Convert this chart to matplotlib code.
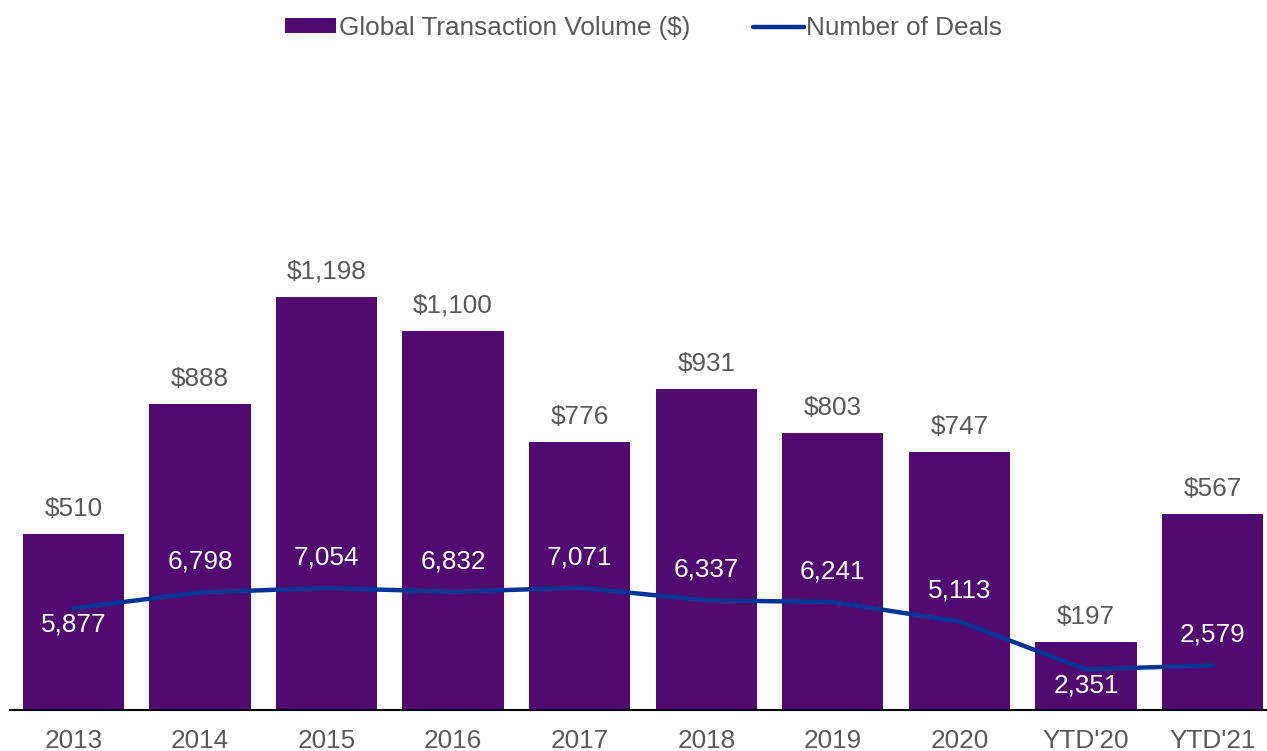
import matplotlib
matplotlib.use("Agg")
import matplotlib.pyplot as plt

# Data
years = ["2013", "2014", "2015", "2016", "2017", "2018", "2019", "2020", "YTD'20", "YTD'21"]
volume = [510, 888, 1198, 1100, 776, 931, 803, 747, 197, 567]
deals = [5877, 6798, 7054, 6832, 7071, 6337, 6241, 5113, 2351, 2579]
# label placement for deals: True = above the line
deal_above = [False, True, True, True, True, True, True, True, False, True]

BAR_COLOR = "#500A70"
LINE_COLOR = "#003595"
TEXT_COLOR = "#595959"
FS = 18.8

plt.rcParams['font.family'] = ['Liberation Sans', 'DejaVu Sans']

fig = plt.figure(figsize=(12.67, 7.51), dpi=100)
ax = fig.add_axes([10 / 1267, 41 / 751, 1257 / 1267, 650 / 751])

x = list(range(len(years)))
ax.bar(x, volume, width=0.8, color=BAR_COLOR, label="Global Transaction Volume ($)", zorder=2)
ax.set_xlim(-0.5, 9.43)
ax.set_ylim(0, 650 / 0.345)

for xi, v in zip(x, volume):
    ax.annotate(f"${v:,}", (xi, v), xytext=(0, 18), textcoords="offset points",
                ha="center", va="center", fontsize=FS, color=TEXT_COLOR)

ax2 = ax.twinx()
ax2.plot(x, deals, color=LINE_COLOR, linewidth=3.2, solid_capstyle="round",
         label="Number of Deals", zorder=3)
ax2.set_ylim(0, 650 / 0.0173)

for xi, d, up in zip(x, deals, deal_above):
    off = 22 if up else -12
    ax2.annotate(f"{d:,}", (xi, d), xytext=(0, off), textcoords="offset points",
                 ha="center", va="center", fontsize=FS, color="white", zorder=4)

for a in (ax, ax2):
    for s in ["top", "right", "left"]:
        a.spines[s].set_visible(False)
    a.set_yticks([])
ax2.spines["bottom"].set_visible(False)
ax.spines["bottom"].set_linewidth(1.5)
ax.spines["bottom"].set_color("black")

ax.set_xticks(x)
ax.set_xticklabels(years, fontsize=FS, color=TEXT_COLOR)
ax.tick_params(axis="x", length=0, pad=14)

h1, l1 = ax.get_legend_handles_labels()
h2, l2 = ax2.get_legend_handles_labels()
fig.legend(h1 + h2, l1 + l2, loc="center", bbox_to_anchor=(0.508, 1 - 28 / 751), ncol=2,
           frameon=False, fontsize=FS, labelcolor=TEXT_COLOR, handlelength=1.95,
           handleheight=0.5, handletextpad=0.1, columnspacing=2.4)

fig.savefig("out.png", dpi=100)
